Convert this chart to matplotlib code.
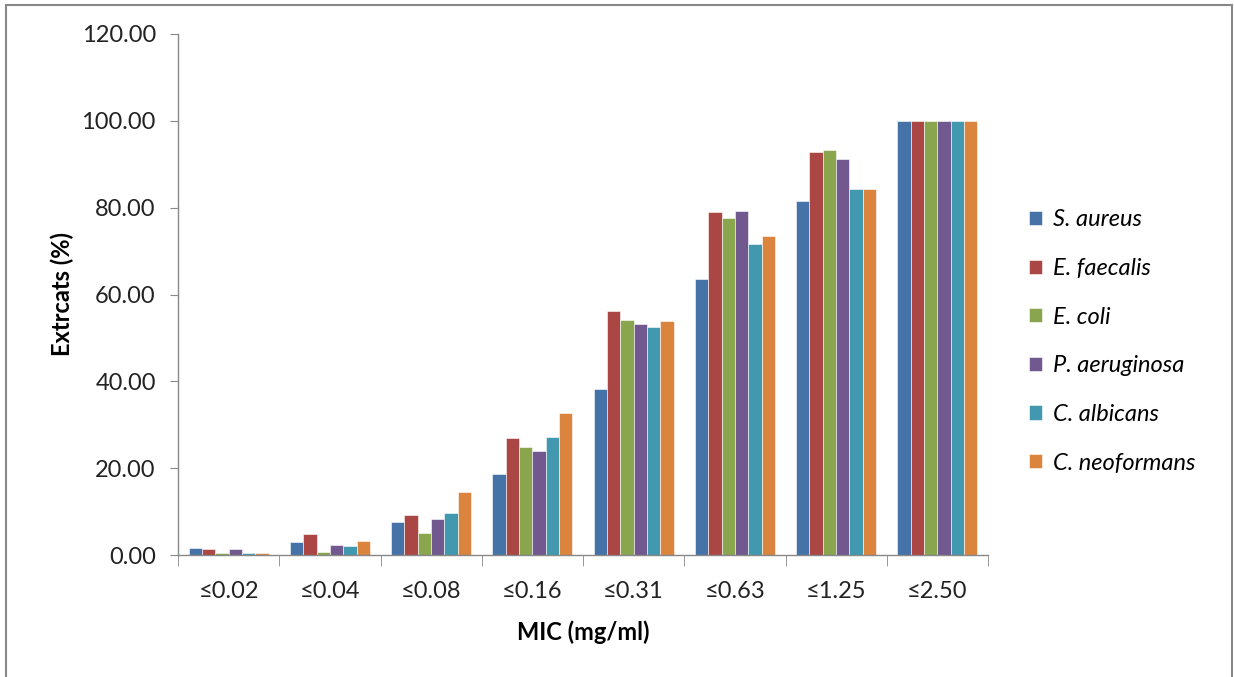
import matplotlib
matplotlib.use("Agg")
import matplotlib.pyplot as plt
import numpy as np
from matplotlib.patches import Rectangle

categories = ["≤0.02", "≤0.04", "≤0.08", "≤0.16", "≤0.31", "≤0.63", "≤1.25", "≤2.50"]
s_aureus      = [1.7, 2.9, 7.7, 18.6, 38.2, 63.5, 81.6, 100.0]
e_faecalis    = [1.3, 4.8, 9.1, 27.0, 56.1, 78.9, 92.8, 100.0]
e_coli        = [0.5, 0.6, 5.0, 24.9, 54.2, 77.7, 93.2, 100.0]
p_aeruginosa  = [1.3, 2.4, 8.2, 24.0, 53.1, 79.3, 91.3, 100.0]
c_albicans    = [0.5, 2.1, 9.7, 27.2, 52.6, 71.6, 84.2, 100.0]
c_neoformans  = [0.4, 3.2, 14.6, 32.6, 53.8, 73.4, 84.2, 100.0]
series_names = ["S. aureus", "E. faecalis", "E. coli", "P. aeruginosa", "C. albicans", "C. neoformans"]
series = [s_aureus, e_faecalis, e_coli, p_aeruginosa, c_albicans, c_neoformans]
colors = ["#4572A7", "#AA4643", "#89A54E", "#71588F", "#4198AF", "#DB843D"]
yticks = [0, 20, 40, 60, 80, 100, 120]

plt.rcParams['font.family'] = ['Lato', 'DejaVu Sans']
FS = 17

fig = plt.figure(figsize=(12.34, 6.77), dpi=100)
ax = fig.add_axes([178/1234, 1-555/677, (988-178)/1234, (555-34)/677])

n = len(series)
group_w = 0.79
bw = group_w / n
x = np.arange(len(categories))
for i, (name, vals, c) in enumerate(zip(series_names, series, colors)):
    offs = -group_w/2 + bw*(i+0.5)
    ax.bar(x + offs, vals, width=bw, color=c, edgecolor='white', linewidth=0.4, label=name)

ax.set_xlim(-0.5, len(categories)-0.5)
ax.set_ylim(0, 120)
ax.set_yticks(yticks)
ax.set_yticklabels([f"{v:.2f}" for v in yticks], fontsize=FS, color='#222222')
ax.set_xticks(x)
ax.set_xticklabels(categories, fontsize=FS, color='#222222')
ax.tick_params(axis='x', which='major', length=0, pad=19)
ax.set_xticks(np.arange(-0.5, len(categories)), minor=True)
ax.tick_params(axis='x', which='minor', length=8, color='#888888', direction='out')
ax.tick_params(axis='y', which='major', length=6, color='#888888', direction='out', pad=10)

for sp in ['top', 'right']:
    ax.spines[sp].set_visible(False)
for sp in ['left', 'bottom']:
    ax.spines[sp].set_color('#888888')
    ax.spines[sp].set_linewidth(1.0)

ax.set_ylabel("Extrcats (%)", fontsize=FS, fontweight='bold', labelpad=5)
ax.set_xlabel("MIC (mg/ml)", fontsize=FS, fontweight='bold', labelpad=13)

leg = fig.legend(loc='upper left', bbox_to_anchor=(1020/1234, 1-200/677), frameon=False,
                 prop={'style': 'italic', 'size': FS}, handlelength=0.55, handleheight=0.55,
                 handletextpad=0.45, labelspacing=1.17, borderaxespad=0)

fig.patches.append(Rectangle((6/1234, -0.01), (1232-6)/1234, 1.01-5/677,
                             transform=fig.transFigure, fill=False, edgecolor='#888888', linewidth=1.5))

fig.savefig("out.png", dpi=100)
